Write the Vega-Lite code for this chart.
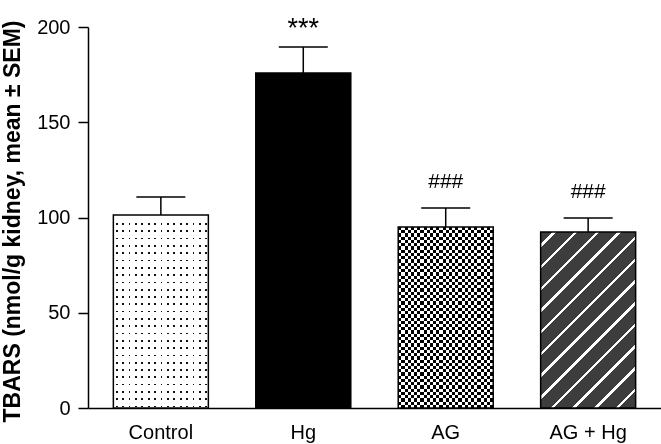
{
 "$schema": "https://vega.github.io/schema/vega-lite/v6.json",
 "width": 573, "height": 381,
 "autosize": {"type": "none"},
 "padding": {"left": 88, "top": 27, "right": 0, "bottom": 36},
 "background": "white",
 "config": {"view": {"stroke": null}, "font": "Liberation Sans",
  "axis": {"domainColor": "#000", "domainWidth": 1.5, "tickColor": "#000", "tickWidth": 1.5, "labelColor": "#000", "titleColor": "#000", "grid": false, "labelFont": "Liberation Sans", "titleFont": "Liberation Sans"}},
 "data": {"values": [
  {"group": "Control", "mean": 101.3, "upper": 110.8, "sig": ""},
  {"group": "Hg", "mean": 175.8, "upper": 189.5, "sig": "***"},
  {"group": "AG", "mean": 95.0, "upper": 105.0, "sig": "###"},
  {"group": "AG + Hg", "mean": 92.4, "upper": 99.7, "sig": "###"}
 ]},
 "encoding": {
  "x": {"field": "group", "type": "nominal", "sort": null, "title": null,
   "scale": {"domain": ["Control", "Hg", "AG", "AG + Hg"], "paddingInner": 0.333, "paddingOuter": 0.178},
   "axis": {"labelAngle": 0, "ticks": false, "labelFontSize": 20, "labelPadding": 14}}
 },
 "layer": [
  {"transform": [{"filter": "datum.group === 'Control'"}],
   "mark": {"type": "bar", "fill": {"gradient": "linear", "x1": 0, "y1": 0, "x2": 1, "y2": 0, "stops": [
    {"offset": 0, "color": "#fff"},
    {"offset": 0.0258, "color": "#fff"}, {"offset": 0.0258, "color": "#111"}, {"offset": 0.0437, "color": "#111"}, {"offset": 0.0437, "color": "#fff"},
    {"offset": 0.0932, "color": "#fff"}, {"offset": 0.0932, "color": "#111"}, {"offset": 0.1111, "color": "#111"}, {"offset": 0.1111, "color": "#fff"},
    {"offset": 0.1605, "color": "#fff"}, {"offset": 0.1605, "color": "#111"}, {"offset": 0.1784, "color": "#111"}, {"offset": 0.1784, "color": "#fff"},
    {"offset": 0.2279, "color": "#fff"}, {"offset": 0.2279, "color": "#111"}, {"offset": 0.2458, "color": "#111"}, {"offset": 0.2458, "color": "#fff"},
    {"offset": 0.2953, "color": "#fff"}, {"offset": 0.2953, "color": "#111"}, {"offset": 0.3132, "color": "#111"}, {"offset": 0.3132, "color": "#fff"},
    {"offset": 0.3626, "color": "#fff"}, {"offset": 0.3626, "color": "#111"}, {"offset": 0.3805, "color": "#111"}, {"offset": 0.3805, "color": "#fff"},
    {"offset": 0.4300, "color": "#fff"}, {"offset": 0.4300, "color": "#111"}, {"offset": 0.4479, "color": "#111"}, {"offset": 0.4479, "color": "#fff"},
    {"offset": 0.4974, "color": "#fff"}, {"offset": 0.4974, "color": "#111"}, {"offset": 0.5153, "color": "#111"}, {"offset": 0.5153, "color": "#fff"},
    {"offset": 0.5647, "color": "#fff"}, {"offset": 0.5647, "color": "#111"}, {"offset": 0.5826, "color": "#111"}, {"offset": 0.5826, "color": "#fff"},
    {"offset": 0.6321, "color": "#fff"}, {"offset": 0.6321, "color": "#111"}, {"offset": 0.6500, "color": "#111"}, {"offset": 0.6500, "color": "#fff"},
    {"offset": 0.6995, "color": "#fff"}, {"offset": 0.6995, "color": "#111"}, {"offset": 0.7174, "color": "#111"}, {"offset": 0.7174, "color": "#fff"},
    {"offset": 0.7668, "color": "#fff"}, {"offset": 0.7668, "color": "#111"}, {"offset": 0.7847, "color": "#111"}, {"offset": 0.7847, "color": "#fff"},
    {"offset": 0.8342, "color": "#fff"}, {"offset": 0.8342, "color": "#111"}, {"offset": 0.8521, "color": "#111"}, {"offset": 0.8521, "color": "#fff"},
    {"offset": 0.9016, "color": "#fff"}, {"offset": 0.9016, "color": "#111"}, {"offset": 0.9195, "color": "#111"}, {"offset": 0.9195, "color": "#fff"},
    {"offset": 0.9689, "color": "#fff"}, {"offset": 0.9689, "color": "#111"}, {"offset": 0.9868, "color": "#111"}, {"offset": 0.9868, "color": "#fff"},
    {"offset": 1, "color": "#fff"}]}},
   "encoding": {"y": {"field": "mean", "type": "quantitative", "title": "TBARS (nmol/g kidney, mean ± SEM)", "scale": {"domain": [0, 200], "nice": false},
     "axis": {"values": [0, 50, 100, 150, 200], "tickSize": 10, "labelFontSize": 20, "labelPadding": 8, "titleFontSize": 23, "titleFontWeight": "bold", "titleX": -64, "titleY": 194}}}},
  {"transform": [{"filter": "datum.group === 'Control'"}],
   "mark": {"type": "bar", "blend": "lighten", "fill": {"gradient": "linear", "x1": 0, "y1": 0, "x2": 0, "y2": 1, "stops": [
    {"offset": 0, "color": "#fff"},
    {"offset": 0.0422, "color": "#fff"}, {"offset": 0.0422, "color": "#111"}, {"offset": 0.0510, "color": "#111"}, {"offset": 0.0510, "color": "#fff"},
    {"offset": 0.0801, "color": "#fff"}, {"offset": 0.0801, "color": "#111"}, {"offset": 0.0889, "color": "#111"}, {"offset": 0.0889, "color": "#fff"},
    {"offset": 0.1179, "color": "#fff"}, {"offset": 0.1179, "color": "#111"}, {"offset": 0.1267, "color": "#111"}, {"offset": 0.1267, "color": "#fff"},
    {"offset": 0.1557, "color": "#fff"}, {"offset": 0.1557, "color": "#111"}, {"offset": 0.1645, "color": "#111"}, {"offset": 0.1645, "color": "#fff"},
    {"offset": 0.1935, "color": "#fff"}, {"offset": 0.1935, "color": "#111"}, {"offset": 0.2023, "color": "#111"}, {"offset": 0.2023, "color": "#fff"},
    {"offset": 0.2313, "color": "#fff"}, {"offset": 0.2313, "color": "#111"}, {"offset": 0.2402, "color": "#111"}, {"offset": 0.2402, "color": "#fff"},
    {"offset": 0.2692, "color": "#fff"}, {"offset": 0.2692, "color": "#111"}, {"offset": 0.2780, "color": "#111"}, {"offset": 0.2780, "color": "#fff"},
    {"offset": 0.3070, "color": "#fff"}, {"offset": 0.3070, "color": "#111"}, {"offset": 0.3158, "color": "#111"}, {"offset": 0.3158, "color": "#fff"},
    {"offset": 0.3448, "color": "#fff"}, {"offset": 0.3448, "color": "#111"}, {"offset": 0.3536, "color": "#111"}, {"offset": 0.3536, "color": "#fff"},
    {"offset": 0.3826, "color": "#fff"}, {"offset": 0.3826, "color": "#111"}, {"offset": 0.3914, "color": "#111"}, {"offset": 0.3914, "color": "#fff"},
    {"offset": 0.4205, "color": "#fff"}, {"offset": 0.4205, "color": "#111"}, {"offset": 0.4293, "color": "#111"}, {"offset": 0.4293, "color": "#fff"},
    {"offset": 0.4583, "color": "#fff"}, {"offset": 0.4583, "color": "#111"}, {"offset": 0.4671, "color": "#111"}, {"offset": 0.4671, "color": "#fff"},
    {"offset": 0.4961, "color": "#fff"}, {"offset": 0.4961, "color": "#111"}, {"offset": 0.5049, "color": "#111"}, {"offset": 0.5049, "color": "#fff"},
    {"offset": 0.5339, "color": "#fff"}, {"offset": 0.5339, "color": "#111"}, {"offset": 0.5427, "color": "#111"}, {"offset": 0.5427, "color": "#fff"},
    {"offset": 0.5718, "color": "#fff"}, {"offset": 0.5718, "color": "#111"}, {"offset": 0.5806, "color": "#111"}, {"offset": 0.5806, "color": "#fff"},
    {"offset": 0.6096, "color": "#fff"}, {"offset": 0.6096, "color": "#111"}, {"offset": 0.6184, "color": "#111"}, {"offset": 0.6184, "color": "#fff"},
    {"offset": 0.6474, "color": "#fff"}, {"offset": 0.6474, "color": "#111"}, {"offset": 0.6562, "color": "#111"}, {"offset": 0.6562, "color": "#fff"},
    {"offset": 0.6852, "color": "#fff"}, {"offset": 0.6852, "color": "#111"}, {"offset": 0.6940, "color": "#111"}, {"offset": 0.6940, "color": "#fff"},
    {"offset": 0.7231, "color": "#fff"}, {"offset": 0.7231, "color": "#111"}, {"offset": 0.7319, "color": "#111"}, {"offset": 0.7319, "color": "#fff"},
    {"offset": 0.7609, "color": "#fff"}, {"offset": 0.7609, "color": "#111"}, {"offset": 0.7697, "color": "#111"}, {"offset": 0.7697, "color": "#fff"},
    {"offset": 0.7987, "color": "#fff"}, {"offset": 0.7987, "color": "#111"}, {"offset": 0.8075, "color": "#111"}, {"offset": 0.8075, "color": "#fff"},
    {"offset": 0.8365, "color": "#fff"}, {"offset": 0.8365, "color": "#111"}, {"offset": 0.8453, "color": "#111"}, {"offset": 0.8453, "color": "#fff"},
    {"offset": 0.8744, "color": "#fff"}, {"offset": 0.8744, "color": "#111"}, {"offset": 0.8832, "color": "#111"}, {"offset": 0.8832, "color": "#fff"},
    {"offset": 0.9122, "color": "#fff"}, {"offset": 0.9122, "color": "#111"}, {"offset": 0.9210, "color": "#111"}, {"offset": 0.9210, "color": "#fff"},
    {"offset": 0.9500, "color": "#fff"}, {"offset": 0.9500, "color": "#111"}, {"offset": 0.9588, "color": "#111"}, {"offset": 0.9588, "color": "#fff"},
    {"offset": 0.9878, "color": "#fff"}, {"offset": 0.9878, "color": "#111"}, {"offset": 0.9966, "color": "#111"}, {"offset": 0.9966, "color": "#fff"},
    {"offset": 1, "color": "#fff"}]}},
   "encoding": {"y": {"field": "mean", "type": "quantitative", "title": "TBARS (nmol/g kidney, mean ± SEM)", "scale": {"domain": [0, 200], "nice": false}}}},
  {"transform": [{"filter": "datum.group === 'Hg'"}],
   "mark": {"type": "bar", "fill": "#000"},
   "encoding": {"y": {"field": "mean", "type": "quantitative", "title": "TBARS (nmol/g kidney, mean ± SEM)", "scale": {"domain": [0, 200], "nice": false}}}},
  {"transform": [{"filter": "datum.group === 'AG'"}],
   "mark": {"type": "bar", "fill": {"gradient": "linear", "x1": 0, "y1": 0, "x2": 1, "y2": 0, "stops": [
    {"offset": 0, "color": "#000"}, {"offset": 0.03333, "color": "#000"}, {"offset": 0.03333, "color": "#fff"}, {"offset": 0.06667, "color": "#fff"},
    {"offset": 0.06667, "color": "#000"}, {"offset": 0.1, "color": "#000"}, {"offset": 0.1, "color": "#fff"}, {"offset": 0.13333, "color": "#fff"},
    {"offset": 0.13333, "color": "#000"}, {"offset": 0.16667, "color": "#000"}, {"offset": 0.16667, "color": "#fff"}, {"offset": 0.2, "color": "#fff"},
    {"offset": 0.2, "color": "#000"}, {"offset": 0.23333, "color": "#000"}, {"offset": 0.23333, "color": "#fff"}, {"offset": 0.26667, "color": "#fff"},
    {"offset": 0.26667, "color": "#000"}, {"offset": 0.3, "color": "#000"}, {"offset": 0.3, "color": "#fff"}, {"offset": 0.33333, "color": "#fff"},
    {"offset": 0.33333, "color": "#000"}, {"offset": 0.36667, "color": "#000"}, {"offset": 0.36667, "color": "#fff"}, {"offset": 0.4, "color": "#fff"},
    {"offset": 0.4, "color": "#000"}, {"offset": 0.43333, "color": "#000"}, {"offset": 0.43333, "color": "#fff"}, {"offset": 0.46667, "color": "#fff"},
    {"offset": 0.46667, "color": "#000"}, {"offset": 0.5, "color": "#000"}, {"offset": 0.5, "color": "#fff"}, {"offset": 0.53333, "color": "#fff"},
    {"offset": 0.53333, "color": "#000"}, {"offset": 0.56667, "color": "#000"}, {"offset": 0.56667, "color": "#fff"}, {"offset": 0.6, "color": "#fff"},
    {"offset": 0.6, "color": "#000"}, {"offset": 0.63333, "color": "#000"}, {"offset": 0.63333, "color": "#fff"}, {"offset": 0.66667, "color": "#fff"},
    {"offset": 0.66667, "color": "#000"}, {"offset": 0.7, "color": "#000"}, {"offset": 0.7, "color": "#fff"}, {"offset": 0.73333, "color": "#fff"},
    {"offset": 0.73333, "color": "#000"}, {"offset": 0.76667, "color": "#000"}, {"offset": 0.76667, "color": "#fff"}, {"offset": 0.8, "color": "#fff"},
    {"offset": 0.8, "color": "#000"}, {"offset": 0.83333, "color": "#000"}, {"offset": 0.83333, "color": "#fff"}, {"offset": 0.86667, "color": "#fff"},
    {"offset": 0.86667, "color": "#000"}, {"offset": 0.9, "color": "#000"}, {"offset": 0.9, "color": "#fff"}, {"offset": 0.93333, "color": "#fff"},
    {"offset": 0.93333, "color": "#000"}, {"offset": 0.96667, "color": "#000"}, {"offset": 0.96667, "color": "#fff"}, {"offset": 1, "color": "#fff"}]}},
   "encoding": {"y": {"field": "mean", "type": "quantitative", "title": "TBARS (nmol/g kidney, mean ± SEM)", "scale": {"domain": [0, 200], "nice": false}}}},
  {"transform": [{"filter": "datum.group === 'AG'"}],
   "mark": {"type": "bar", "blend": "difference", "fill": {"gradient": "linear", "x1": 0, "y1": 0, "x2": 0, "y2": 1, "stops": [
    {"offset": 0, "color": "#000"}, {"offset": 0.01786, "color": "#000"}, {"offset": 0.01786, "color": "#fff"}, {"offset": 0.03571, "color": "#fff"},
    {"offset": 0.03571, "color": "#000"}, {"offset": 0.05357, "color": "#000"}, {"offset": 0.05357, "color": "#fff"}, {"offset": 0.07143, "color": "#fff"},
    {"offset": 0.07143, "color": "#000"}, {"offset": 0.08929, "color": "#000"}, {"offset": 0.08929, "color": "#fff"}, {"offset": 0.10714, "color": "#fff"},
    {"offset": 0.10714, "color": "#000"}, {"offset": 0.125, "color": "#000"}, {"offset": 0.125, "color": "#fff"}, {"offset": 0.14286, "color": "#fff"},
    {"offset": 0.14286, "color": "#000"}, {"offset": 0.16071, "color": "#000"}, {"offset": 0.16071, "color": "#fff"}, {"offset": 0.17857, "color": "#fff"},
    {"offset": 0.17857, "color": "#000"}, {"offset": 0.19643, "color": "#000"}, {"offset": 0.19643, "color": "#fff"}, {"offset": 0.21429, "color": "#fff"},
    {"offset": 0.21429, "color": "#000"}, {"offset": 0.23214, "color": "#000"}, {"offset": 0.23214, "color": "#fff"}, {"offset": 0.25, "color": "#fff"},
    {"offset": 0.25, "color": "#000"}, {"offset": 0.26786, "color": "#000"}, {"offset": 0.26786, "color": "#fff"}, {"offset": 0.28571, "color": "#fff"},
    {"offset": 0.28571, "color": "#000"}, {"offset": 0.30357, "color": "#000"}, {"offset": 0.30357, "color": "#fff"}, {"offset": 0.32143, "color": "#fff"},
    {"offset": 0.32143, "color": "#000"}, {"offset": 0.33929, "color": "#000"}, {"offset": 0.33929, "color": "#fff"}, {"offset": 0.35714, "color": "#fff"},
    {"offset": 0.35714, "color": "#000"}, {"offset": 0.375, "color": "#000"}, {"offset": 0.375, "color": "#fff"}, {"offset": 0.39286, "color": "#fff"},
    {"offset": 0.39286, "color": "#000"}, {"offset": 0.41071, "color": "#000"}, {"offset": 0.41071, "color": "#fff"}, {"offset": 0.42857, "color": "#fff"},
    {"offset": 0.42857, "color": "#000"}, {"offset": 0.44643, "color": "#000"}, {"offset": 0.44643, "color": "#fff"}, {"offset": 0.46429, "color": "#fff"},
    {"offset": 0.46429, "color": "#000"}, {"offset": 0.48214, "color": "#000"}, {"offset": 0.48214, "color": "#fff"}, {"offset": 0.5, "color": "#fff"},
    {"offset": 0.5, "color": "#000"}, {"offset": 0.51786, "color": "#000"}, {"offset": 0.51786, "color": "#fff"}, {"offset": 0.53571, "color": "#fff"},
    {"offset": 0.53571, "color": "#000"}, {"offset": 0.55357, "color": "#000"}, {"offset": 0.55357, "color": "#fff"}, {"offset": 0.57143, "color": "#fff"},
    {"offset": 0.57143, "color": "#000"}, {"offset": 0.58929, "color": "#000"}, {"offset": 0.58929, "color": "#fff"}, {"offset": 0.60714, "color": "#fff"},
    {"offset": 0.60714, "color": "#000"}, {"offset": 0.625, "color": "#000"}, {"offset": 0.625, "color": "#fff"}, {"offset": 0.64286, "color": "#fff"},
    {"offset": 0.64286, "color": "#000"}, {"offset": 0.66071, "color": "#000"}, {"offset": 0.66071, "color": "#fff"}, {"offset": 0.67857, "color": "#fff"},
    {"offset": 0.67857, "color": "#000"}, {"offset": 0.69643, "color": "#000"}, {"offset": 0.69643, "color": "#fff"}, {"offset": 0.71429, "color": "#fff"},
    {"offset": 0.71429, "color": "#000"}, {"offset": 0.73214, "color": "#000"}, {"offset": 0.73214, "color": "#fff"}, {"offset": 0.75, "color": "#fff"},
    {"offset": 0.75, "color": "#000"}, {"offset": 0.76786, "color": "#000"}, {"offset": 0.76786, "color": "#fff"}, {"offset": 0.78571, "color": "#fff"},
    {"offset": 0.78571, "color": "#000"}, {"offset": 0.80357, "color": "#000"}, {"offset": 0.80357, "color": "#fff"}, {"offset": 0.82143, "color": "#fff"},
    {"offset": 0.82143, "color": "#000"}, {"offset": 0.83929, "color": "#000"}, {"offset": 0.83929, "color": "#fff"}, {"offset": 0.85714, "color": "#fff"},
    {"offset": 0.85714, "color": "#000"}, {"offset": 0.875, "color": "#000"}, {"offset": 0.875, "color": "#fff"}, {"offset": 0.89286, "color": "#fff"},
    {"offset": 0.89286, "color": "#000"}, {"offset": 0.91071, "color": "#000"}, {"offset": 0.91071, "color": "#fff"}, {"offset": 0.92857, "color": "#fff"},
    {"offset": 0.92857, "color": "#000"}, {"offset": 0.94643, "color": "#000"}, {"offset": 0.94643, "color": "#fff"}, {"offset": 0.96429, "color": "#fff"},
    {"offset": 0.96429, "color": "#000"}, {"offset": 0.98214, "color": "#000"}, {"offset": 0.98214, "color": "#fff"}, {"offset": 1, "color": "#fff"}]}},
   "encoding": {"y": {"field": "mean", "type": "quantitative", "title": "TBARS (nmol/g kidney, mean ± SEM)", "scale": {"domain": [0, 200], "nice": false}}}},
  {"transform": [{"filter": "datum.group === 'AG + Hg'"}],
   "mark": {"type": "bar", "fill": {"gradient": "linear", "x1": 0, "y1": 0, "x2": 0.6436, "y2": 1.1924, "stops": [
    {"offset": 0, "color": "#3d3d3d"},
    {"offset": 0.0443, "color": "#3d3d3d"}, {"offset": 0.0443, "color": "#fff"}, {"offset": 0.0572, "color": "#fff"}, {"offset": 0.0572, "color": "#3d3d3d"},
    {"offset": 0.1244, "color": "#3d3d3d"}, {"offset": 0.1244, "color": "#fff"}, {"offset": 0.1373, "color": "#fff"}, {"offset": 0.1373, "color": "#3d3d3d"},
    {"offset": 0.2044, "color": "#3d3d3d"}, {"offset": 0.2044, "color": "#fff"}, {"offset": 0.2173, "color": "#fff"}, {"offset": 0.2173, "color": "#3d3d3d"},
    {"offset": 0.2845, "color": "#3d3d3d"}, {"offset": 0.2845, "color": "#fff"}, {"offset": 0.2974, "color": "#fff"}, {"offset": 0.2974, "color": "#3d3d3d"},
    {"offset": 0.3646, "color": "#3d3d3d"}, {"offset": 0.3646, "color": "#fff"}, {"offset": 0.3775, "color": "#fff"}, {"offset": 0.3775, "color": "#3d3d3d"},
    {"offset": 0.4446, "color": "#3d3d3d"}, {"offset": 0.4446, "color": "#fff"}, {"offset": 0.4576, "color": "#fff"}, {"offset": 0.4576, "color": "#3d3d3d"},
    {"offset": 0.5247, "color": "#3d3d3d"}, {"offset": 0.5247, "color": "#fff"}, {"offset": 0.5376, "color": "#fff"}, {"offset": 0.5376, "color": "#3d3d3d"},
    {"offset": 0.6048, "color": "#3d3d3d"}, {"offset": 0.6048, "color": "#fff"}, {"offset": 0.6177, "color": "#fff"}, {"offset": 0.6177, "color": "#3d3d3d"},
    {"offset": 0.6849, "color": "#3d3d3d"}, {"offset": 0.6849, "color": "#fff"}, {"offset": 0.6978, "color": "#fff"}, {"offset": 0.6978, "color": "#3d3d3d"},
    {"offset": 0.7649, "color": "#3d3d3d"}, {"offset": 0.7649, "color": "#fff"}, {"offset": 0.7779, "color": "#fff"}, {"offset": 0.7779, "color": "#3d3d3d"},
    {"offset": 0.8450, "color": "#3d3d3d"}, {"offset": 0.8450, "color": "#fff"}, {"offset": 0.8579, "color": "#fff"}, {"offset": 0.8579, "color": "#3d3d3d"},
    {"offset": 0.9251, "color": "#3d3d3d"}, {"offset": 0.9251, "color": "#fff"}, {"offset": 0.9380, "color": "#fff"}, {"offset": 0.9380, "color": "#3d3d3d"},
    {"offset": 1, "color": "#3d3d3d"}]}},
   "encoding": {"y": {"field": "mean", "type": "quantitative", "title": "TBARS (nmol/g kidney, mean ± SEM)", "scale": {"domain": [0, 200], "nice": false}}}},
  {"mark": {"type": "bar", "fillOpacity": 0, "stroke": "#000", "strokeWidth": 1.5},
   "encoding": {"y": {"field": "mean", "type": "quantitative", "title": "TBARS (nmol/g kidney, mean ± SEM)", "scale": {"domain": [0, 200], "nice": false}}}},
  {"mark": {"type": "rule", "color": "#000", "strokeWidth": 1.5},
   "encoding": {"y": {"field": "mean", "type": "quantitative", "title": "TBARS (nmol/g kidney, mean ± SEM)", "scale": {"domain": [0, 200], "nice": false}}, "y2": {"field": "upper"}}},
  {"mark": {"type": "tick", "color": "#000", "opacity": 1, "size": 49, "thickness": 1.5},
   "encoding": {"y": {"field": "upper", "type": "quantitative", "title": "TBARS (nmol/g kidney, mean ± SEM)", "scale": {"domain": [0, 200], "nice": false}}}},
  {"transform": [{"filter": "datum.sig === '###'"}],
   "mark": {"type": "text", "color": "#000", "fontSize": 21, "baseline": "alphabetic", "align": "center", "dy": -20},
   "encoding": {"y": {"field": "upper", "type": "quantitative", "title": "TBARS (nmol/g kidney, mean ± SEM)", "scale": {"domain": [0, 200], "nice": false}}, "text": {"field": "sig"}}},
  {"transform": [{"filter": "datum.sig === '***'"}],
   "mark": {"type": "text", "color": "#000", "fontSize": 27, "baseline": "alphabetic", "align": "center", "dy": -10},
   "encoding": {"y": {"field": "upper", "type": "quantitative", "title": "TBARS (nmol/g kidney, mean ± SEM)", "scale": {"domain": [0, 200], "nice": false}}, "text": {"field": "sig"}}}
 ]
}
